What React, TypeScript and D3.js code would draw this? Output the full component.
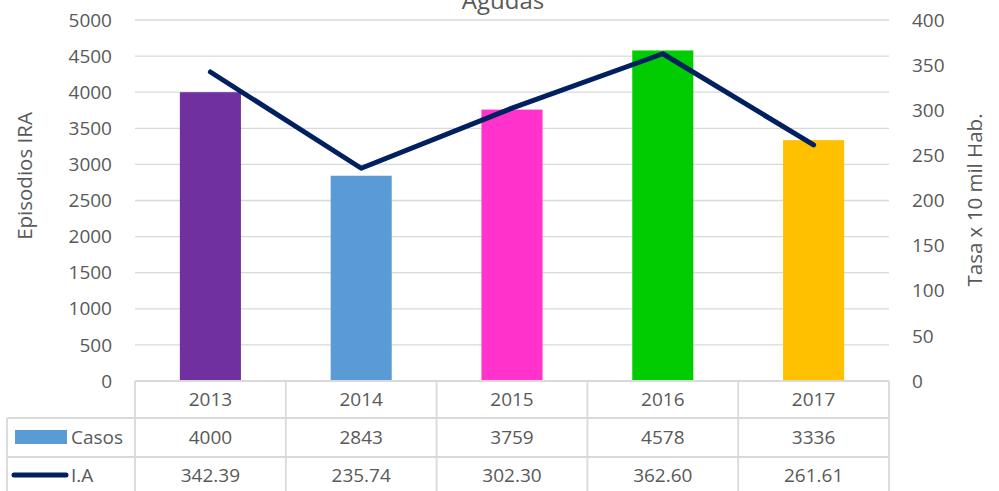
import React from "react";
import * as d3 from "d3";

const years = ["2013", "2014", "2015", "2016", "2017"];
const casos = [4000, 2843, 3759, 4578, 3336];
const ia = [342.39, 235.74, 302.3, 362.6, 261.61];
const iaLabels = ["342.39", "235.74", "302.30", "362.60", "261.61"];
const barColors = ["#7030A0", "#5B9BD5", "#FF33CC", "#00CC00", "#FFC000"];
const leftTicks = [0, 500, 1000, 1500, 2000, 2500, 3000, 3500, 4000, 4500, 5000];
const rightTicks = [0, 50, 100, 150, 200, 250, 300, 350, 400];

const W = 999;
const H = 491;
const plotL = 135;
const plotR = 889;
const plotT = 20;
const plotB = 381;
const FONT = "'Open Sans', sans-serif";
const TXT = "#595959";
const GRID = "#D9D9D9";

export default function App() {
  const cols = d3.scaleBand<string>().domain(years).range([plotL, plotR]).padding(0);
  const bars = d3
    .scaleBand<string>()
    .domain(years)
    .range([plotL, plotR])
    .paddingInner(0.595)
    .paddingOuter(0.2975);
  const yL = d3.scaleLinear().domain([0, 5000]).range([plotB, plotT]);
  const yR = d3.scaleLinear().domain([0, 400]).range([plotB, plotT]);
  const line = d3
    .line<number>()
    .x((_, i) => (cols(years[i]) as number) + cols.bandwidth() / 2)
    .y((d) => yR(d));

  const row1 = plotB;
  const row2 = 418;
  const row3 = 457;
  const row4 = 496;
  const tableL = 7;

  return (
    <div style={{ position: "fixed", left: 0, top: 0 }}>
      <svg width={W} height={H} style={{ display: "block", background: "#fff" }}>
        <text x={503} y={9} textAnchor="middle" fontFamily={FONT} fontSize={24} fill={TXT}>
          Agudas
        </text>
        {leftTicks.map((t) => (
          <g key={"l" + t}>
            {t > 0 && (
              <line x1={plotL} x2={plotR} y1={yL(t)} y2={yL(t)} stroke={GRID} strokeWidth={1.3} />
            )}
            <text
              x={112}
              y={yL(t)}
              dy="0.35em"
              textAnchor="end"
              fontFamily={FONT}
              fontSize={19}
              fill={TXT}
            >
              {t}
            </text>
          </g>
        ))}
        {rightTicks.map((t) => (
          <text
            key={"r" + t}
            x={912}
            y={yR(t)}
            dy="0.35em"
            textAnchor="start"
            fontFamily={FONT}
            fontSize={19}
            fill={TXT}
          >
            {t}
          </text>
        ))}
        <text
          transform={`translate(25,176) rotate(-90)`}
          textAnchor="middle"
          dy="0.35em"
          fontFamily={FONT}
          fontSize={20.5}
          fill={TXT}
        >
          {"Episodios  IRA"}
        </text>
        <text
          transform={`translate(975,200) rotate(-90)`}
          textAnchor="middle"
          dy="0.35em"
          fontFamily={FONT}
          fontSize={20.5}
          fill={TXT}
        >
          Tasa x 10 mil Hab.
        </text>
        {casos.map((v, i) => (
          <rect
            key={"b" + i}
            x={bars(years[i])}
            y={yL(v)}
            width={bars.bandwidth()}
            height={plotB - yL(v)}
            fill={barColors[i]}
          />
        ))}
        <path
          d={line(ia) || ""}
          fill="none"
          stroke="#002060"
          strokeWidth={5}
          strokeLinejoin="round"
          strokeLinecap="round"
        />
        {/* data table */}
        <g stroke={GRID} strokeWidth={1.8} fill="none">
          <line x1={plotL} x2={plotR} y1={row1} y2={row1} />
          <line x1={tableL} x2={plotR} y1={row2} y2={row2} />
          <line x1={tableL} x2={plotR} y1={row3} y2={row3} />
          <line x1={tableL} x2={tableL} y1={row2} y2={row4} />
          <line x1={plotL} x2={plotL} y1={row1} y2={row4} />
          {years.map((y) => (
            <line
              key={"v" + y}
              x1={(cols(y) as number) + cols.bandwidth()}
              x2={(cols(y) as number) + cols.bandwidth()}
              y1={row1}
              y2={row4}
            />
          ))}
        </g>
        {years.map((y, i) => {
          const cx = (cols(y) as number) + cols.bandwidth() / 2;
          return (
            <g key={"t" + y} fontFamily={FONT} fontSize={19} fill={TXT} textAnchor="middle">
              <text x={cx} y={(row1 + row2) / 2} dy="0.35em">
                {y}
              </text>
              <text x={cx} y={(row2 + row3) / 2} dy="0.35em">
                {casos[i]}
              </text>
              <text x={cx} y={(row3 + 494) / 2} dy="0.35em">
                {iaLabels[i]}
              </text>
            </g>
          );
        })}
        <rect x={15} y={430} width={52} height={14} fill="#5B9BD5" />
        <text x={71} y={437} dy="0.35em" fontFamily={FONT} fontSize={19} fill={TXT}>
          Casos
        </text>
        <line
          x1={14}
          x2={66}
          y1={475}
          y2={475}
          stroke="#002060"
          strokeWidth={5}
          strokeLinecap="round"
        />
        <text x={71} y={475} dy="0.35em" fontFamily={FONT} fontSize={19} fill={TXT}>
          I.A
        </text>
      </svg>
    </div>
  );
}
